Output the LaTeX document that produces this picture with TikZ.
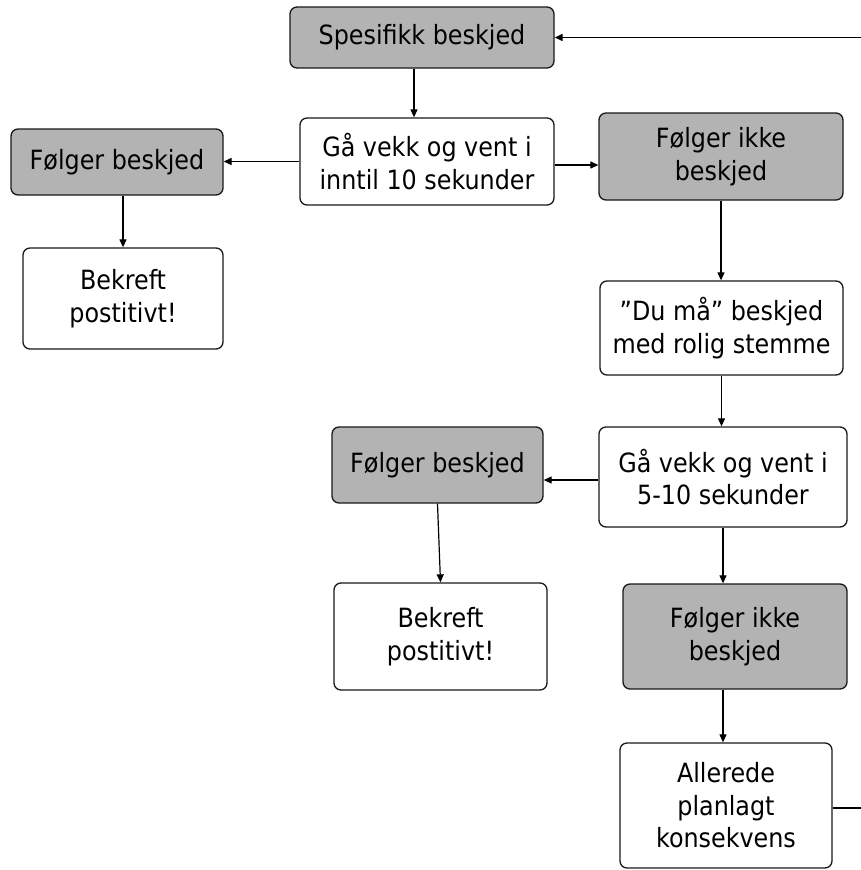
\documentclass[tikz,border=0pt]{standalone}
\usepackage{fontspec}
\setmainfont{DejaVu Sans Condensed}
\usetikzlibrary{arrows.meta,positioning}
\definecolor{boxgrey}{RGB}{179,179,179}

\begin{document}
\begin{tikzpicture}[x=1pt, y=-1pt, >={Triangle[length=8pt,width=7pt]}, line width=1.2pt]
	\tikzstyle{box}=[draw=black!90, line width=1.3pt, rounded corners=7pt, align=center, inner sep=0pt, fill=white, font=\fontsize{26.5}{32.5}\selectfont]
	\tikzstyle{greybox}=[box, fill=boxgrey]
	\useasboundingbox (0,0) rectangle (861,870);
	\clip (0,0) rectangle (861,870);
	\node[greybox, minimum width=264pt, minimum height=61pt]  (spes)     at (422,37.5)  {Spesifikk beskjed};
	\node[box,     minimum width=254pt, minimum height=87pt]  (vent1)    at (427,161.5) {Gå vekk og vent i\\inntil 10 sekunder};
	\node[greybox, minimum width=244pt, minimum height=87pt]  (ikke1)    at (721,156.5) {Følger ikke\\beskjed};
	\node[greybox, minimum width=212pt, minimum height=66pt]  (folger1)  at (117,162)   {Følger beskjed};
	\node[box,     minimum width=200pt, minimum height=101pt] (bekreft1) at (123,298.5) {Bekreft\\postitivt!};
	\node[box,     minimum width=243pt, minimum height=94pt]  (dumaa)    at (721.5,328) {”Du må” beskjed\\med rolig stemme};
	\node[box,     minimum width=248pt, minimum height=100pt] (vent2)    at (723,477)   {Gå vekk og vent i\\5-10 sekunder};
	\node[greybox, minimum width=211pt, minimum height=76pt]  (folger2)  at (437.5,465) {Følger beskjed};
	\node[box,     minimum width=213pt, minimum height=107pt] (bekreft2) at (440.5,636.5) {Bekreft\\postitivt!};
	\node[greybox, minimum width=224pt, minimum height=105pt] (ikke2)    at (735,636.5) {Følger ikke\\beskjed};
	\node[box,     minimum width=212pt, minimum height=125pt] (allerede) at (726,805.5) {Allerede\\planlagt\\konsekvens};
	\path[->]
	([xshift=-8pt]spes.south)	edge	([xshift=-13pt]vent1.north)
	([yshift=-3.5pt]vent1.east)	edge	([yshift=-3.5pt]vent1.east -| ikke1.west)
	(vent1.west)	edge	(vent1.west -| folger1.east)
	(bekreft1.north |- folger1.south)	edge	(bekreft1.north)
	(ikke1.south)	edge	(ikke1.south |- dumaa.north)
	(dumaa.south)	edge	(dumaa.south |- vent2.north)
	([yshift=-3pt]vent2.west)	edge	([yshift=-3pt]vent2.west -| folger2.east)
	(folger2.south)	edge	(bekreft2.north)
	(vent2.south)	edge	(vent2.south |- ikke2.north)
	([xshift=-3pt]allerede.north |- ikke2.south)	edge	([xshift=-3pt]allerede.north);
	% back to the top
	\draw[->] ([yshift=-2.5pt]allerede.east) -- ++(50pt,0) |- (spes.east);
\end{tikzpicture}
\end{document}
